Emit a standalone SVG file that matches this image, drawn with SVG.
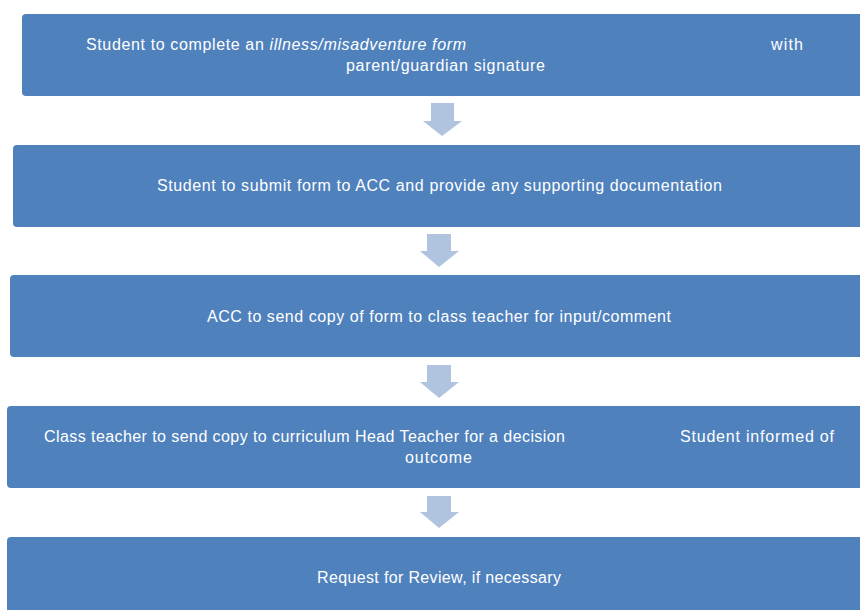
<svg xmlns="http://www.w3.org/2000/svg" width="860" height="610" viewBox="0 0 860 610">
<style>
.box{fill:#4F81BD;}
.arr{fill:#B0C3DF;}
text{font-family:"Liberation Sans",Arial,sans-serif;font-size:16px;fill:#FFFFFF;}
.it{font-style:italic;}
</style>
<rect width="860" height="610" fill="#FFFFFF"/>
<g id="connectors">
<polygon class="arr" points="431,103 454,103 454,121 462,121 442,136 423,121 431,121"/>
<polygon class="arr" points="427,234 451,234 451,251 459,251 439,267 420,251 427,251"/>
<polygon class="arr" points="427,365 451,365 451,382 459,382 439,398 420,382 427,382"/>
<polygon class="arr" points="427,496 451,496 451,512 459,512 439,528 420,512 427,512"/>
</g>
<g id="node1">
<rect class="box" x="22" y="14" width="850" height="82" rx="4"/>
<text x="86" y="50" textLength="380">Student to complete an <tspan class="it">illness/misadventure form</tspan></text>
<text x="771" y="50" textLength="32">with</text>
<text x="346" y="71" textLength="199">parent/guardian signature</text>
</g>
<g id="node2">
<rect class="box" x="13" y="145" width="860" height="82" rx="4"/>
<text x="157" y="191" textLength="565">Student to submit form to ACC and provide any supporting documentation</text>
</g>
<g id="node3">
<rect class="box" x="10" y="275" width="860" height="82" rx="4"/>
<text x="207" y="322" textLength="464">ACC to send copy of form to class teacher for input/comment</text>
</g>
<g id="node4">
<rect class="box" x="7" y="406" width="860" height="82" rx="4"/>
<text x="44" y="442" textLength="521">Class teacher to send copy to curriculum Head Teacher for a decision</text>
<text x="680" y="442" textLength="154">Student informed of</text>
<text x="405" y="463" textLength="67">outcome</text>
</g>
<g id="node5">
<rect class="box" x="7" y="537" width="860" height="90" rx="4"/>
<text x="317" y="583" textLength="244">Request for Review, if necessary</text>
</g>
</svg>
